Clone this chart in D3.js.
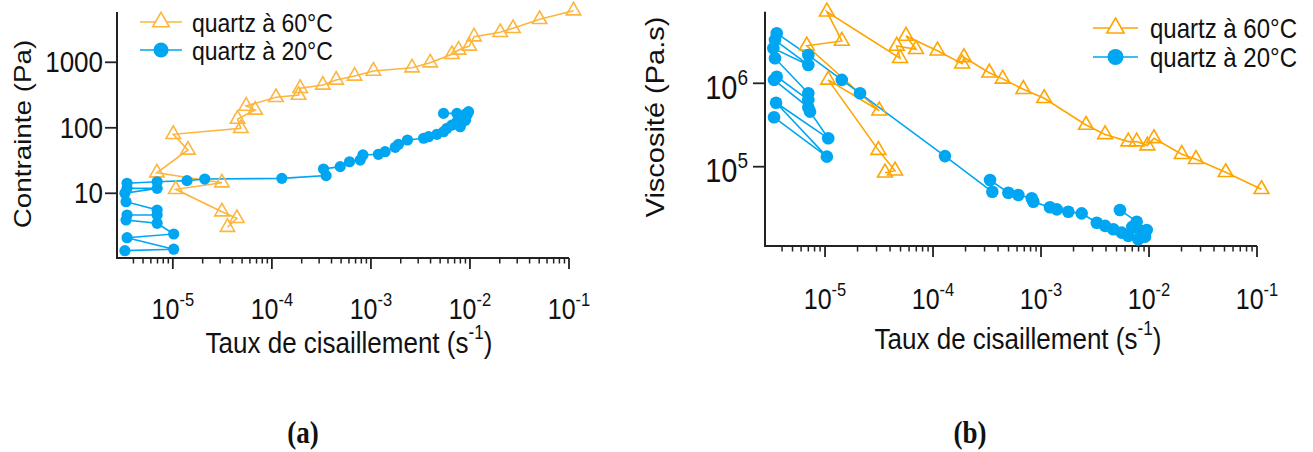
<!DOCTYPE html>
<html><head><meta charset="utf-8">
<script src="https://cdn.jsdelivr.net/npm/d3@7"></script>
<style>
html,body{margin:0;padding:0;background:#fff;}
svg{display:block;}
text{font-family:"Liberation Sans",Arial,sans-serif;fill:#111;}
</style></head>
<body>
<svg id="chart" width="1313" height="452"></svg>
<script>
// ---------- data ----------
const seriesNames = ["quartz à 60°C", "quartz à 20°C"];
const xTickExps = [-5, -4, -3, -2, -1];
const yTicksA = [10, 100, 1000];
const yTickExpsB = [5, 6];

// (a) shear rate (s^-1) and stress (Pa), quartz at 60°C
const rateA60 = [3.56e-5,4.43e-5,3.13e-5,1.07e-5,3.13e-5,6.9e-6,1.42e-5,1.01e-5,4.86e-5,4.5e-5,6.78e-5,5.5e-5,1.10e-4,1.86e-4,1.93e-4,3.27e-4,4.46e-4,6.84e-4,1.06e-3,2.6e-3,3.97e-3,6.57e-3,7.67e-3,9.84e-3,1.1e-2,2.02e-2,2.72e-2,5.05e-2,0.111];
const stressA60 = [3.03,4.15,5.24,11.5,14.5,20.6,45.8,79.6,98.2,136,187,215,292,316,401,450,537,618,736,827,986,1324,1541,1774,2460,2870,3300,4530,6140];

// (a) quartz at 20°C
const rateA20 = [3.28e-6,1.02e-5,3.45e-6,1.02e-5,6.94e-6,3.37e-6,3.45e-6,6.94e-6,6.94e-6,3.37e-6,3.28e-6,6.94e-6,3.45e-6,3.45e-6,6.94e-6,1.39e-5,2.1e-5,1.26e-4,3.53e-4,3.32e-4,4.9e-4,6.08e-4,7.8e-4,8.3e-4,1.19e-3,1.39e-3,1.76e-3,1.9e-3,2.34e-3,3.4e-3,3.82e-3,4.64e-3,5.41e-3,5.86e-3,6.58e-3,7.98e-3,7.39e-3,8.2e-3,8.61e-3,9.0e-3,8.8e-3,9.33e-3,9.68e-3,9.2e-3,7.39e-3,5.41e-3];
const stressA20 = [1.33,1.40,2.10,2.39,3.48,3.91,4.66,4.66,5.56,7.44,10.0,11.9,11.9,14.2,15.0,15.6,16.5,16.9,18.6,23.5,25.5,30.3,32.2,38.5,39.4,43.2,50.4,56,65.1,69.2,73.2,79.6,87.2,98.2,110,104,124,118,140,130,150,157,176,165,166,166];

// (b) shear rate (s^-1) and viscosity (Pa.s), quartz at 60°C
const rateB60 = [3.59e-5,4.45e-5,3.12e-5,1.07e-5,3.18e-5,6.77e-6,1.43e-5,1.04e-5,4.95e-5,4.61e-5,6.96e-5,5.62e-5,1.1e-4,1.86e-4,1.93e-4,3.32e-4,4.42e-4,6.86e-4,1.07e-3,2.61e-3,3.92e-3,6.43e-3,7.69e-3,9.66e-3,1.11e-2,2.01e-2,2.72e-2,5.13e-2,0.110];
const viscB60 = [8.47e4,8.96e4,1.58e5,1.10e6,4.69e5,2.82e6,3.22e6,7.22e6,2.0e6,2.8e6,2.56e6,3.69e6,2.46e6,1.72e6,2.05e6,1.34e6,1.13e6,8.48e5,6.61e5,3.16e5,2.44e5,2.0e5,2.0e5,1.79e5,2.19e5,1.41e5,1.23e5,8.57e4,5.36e4];

// (b) quartz at 20°C
const rateB20 = [3.37e-6,1.04e-5,3.52e-6,1.07e-5,7.26e-6,7.0e-6,3.37e-6,3.57e-6,7.0e-6,7.0e-6,3.44e-6,3.32e-6,7.0e-6,3.44e-6,3.57e-6,7.0e-6,1.43e-5,2.11e-5,1.29e-4,3.54e-4,3.37e-4,4.98e-4,6.16e-4,8.2e-4,8.49e-4,1.21e-3,1.40e-3,1.79e-3,2.38e-3,3.28e-3,3.92e-3,4.67e-3,5.58e-3,6.43e-3,7.0e-3,7.96e-3,8.3e-3,9.2e-3,9.52e-3,7.69e-3,5.38e-3];
const viscB20 = [3.91e5,1.32e5,5.85e5,2.19e5,4.57e5,5.15e5,1.1e6,1.2e6,6.31e5,7.59e5,2.0e6,2.63e6,1.66e6,3.30e6,3.98e6,2.18e6,1.1e6,7.59e5,1.34e5,5.0e4,6.92e4,4.88e4,4.58e4,4.18e4,3.8e4,3.26e4,3.08e4,2.88e4,2.76e4,2.13e4,1.95e4,1.78e4,1.62e4,1.48e4,1.9e4,1.35e4,1.7e4,1.45e4,1.74e4,2.19e4,3.03e4];

// ---------- drawing ----------
const svg = d3.select("#chart");
const BLUE = "#00A6F2";
const VS = 1.16; // vertical stretch of the original typesetting

function stretched(sel, x, y, extra) {
  return sel.attr("transform", `translate(${x},${y}) scale(1,${VS})${extra || ""}`);
}

function drawPanel(cfg) {
  const g = svg.append("g");
  const x = d3.scaleLog().domain(cfg.xDomain).range(cfg.xRange);
  const y = d3.scaleLog().domain(cfg.yDomain).range(cfg.yRange);
  const x0 = cfg.xRange[0], x1 = cfg.xRange[1];
  const yb = cfg.yRange[0], yt = cfg.yRange[1];

  g.append("path").attr("d", `M${x0},${yt}V${yb}H${x1}`)
    .attr("fill", "none").attr("stroke", "#222").attr("stroke-width", 2);

  const minor = [];
  for (let e = -6; e <= -2; e++) for (let m = 2; m <= 9; m++) {
    const v = m * Math.pow(10, e);
    if (x(v) > x0 + 8 && x(v) < x1) minor.push(v);
  }
  g.selectAll(".xmin").data(minor).join("line")
    .attr("x1", d => x(d)).attr("x2", d => x(d)).attr("y1", yb).attr("y2", yb + 5.5)
    .attr("stroke", "#222").attr("stroke-width", 1.5);
  g.selectAll(".xmaj").data(xTickExps).join("line")
    .attr("x1", d => x(Math.pow(10, d))).attr("x2", d => x(Math.pow(10, d)))
    .attr("y1", yb).attr("y2", yb + 11).attr("stroke", "#222").attr("stroke-width", 1.8);
  g.selectAll(".xlab").data(xTickExps).join("text")
    .each(function (d) {
      const t = stretched(d3.select(this), x(Math.pow(10, d)), yb + cfg.xLabDy)
        .attr("text-anchor", "middle").attr("font-size", cfg.tickFont);
      t.append("tspan").text("10");
      t.append("tspan").attr("dy", -cfg.tickFont * 0.46).attr("font-size", cfg.tickFont * 0.66).text(d);
    });

  g.selectAll(".ymaj").data(cfg.yTicks).join("line")
    .attr("x1", x0 - 12).attr("x2", x0).attr("y1", d => y(d)).attr("y2", d => y(d))
    .attr("stroke", "#222").attr("stroke-width", 1.8);
  cfg.yLabels(g, y, x0);

  const xt = stretched(g.append("text"), cfg.xTitlePos[0], cfg.xTitlePos[1])
    .attr("text-anchor", "middle").attr("font-size", cfg.titleFont);
  xt.append("tspan").text("Taux de cisaillement (s");
  xt.append("tspan").attr("dy", -cfg.titleFont * 0.45).attr("font-size", cfg.titleFont * 0.66).text("-1");
  xt.append("tspan").attr("dy", cfg.titleFont * 0.45).text(")");
  stretched(g.append("text"), cfg.yTitlePos[0], cfg.yTitlePos[1], " rotate(-90)")
    .attr("text-anchor", "middle").attr("font-size", cfg.yTitleFont).text(cfg.yTitle);

  const line = d3.line().x(d => x(d[0])).y(d => y(d[1]));
  const s60 = cfg.r60.map((r, i) => [r, cfg.v60[i]]);
  const s20 = cfg.r20.map((r, i) => [r, cfg.v20[i]]);
  const tri = d3.symbol().type(d3.symbolTriangle).size(cfg.triSize);

  g.append("path").datum(s60).attr("d", line).attr("fill", "none")
    .attr("stroke", cfg.orange).attr("stroke-width", 1.6);
  g.append("path").datum(s20).attr("d", line).attr("fill", "none")
    .attr("stroke", BLUE).attr("stroke-width", 1.6);
  g.selectAll(".tri").data(s60).join("path")
    .attr("transform", d => `translate(${x(d[0])},${y(d[1])})`).attr("d", tri)
    .attr("fill", "none").attr("stroke", cfg.orange).attr("stroke-width", 1.6);
  g.selectAll(".dot").data(s20).join("circle")
    .attr("cx", d => x(d[0])).attr("cy", d => y(d[1])).attr("r", cfg.dotR).attr("fill", BLUE);

  const L = cfg.legend;
  [0, 1].forEach(i => {
    const yy = L.y + i * L.dy;
    const col = i === 0 ? cfg.orange : BLUE;
    g.append("line").attr("x1", L.x).attr("x2", L.x + L.len).attr("y1", yy).attr("y2", yy)
      .attr("stroke", col).attr("stroke-width", 1.6);
    if (i === 0) {
      g.append("path").attr("transform", `translate(${L.x + L.len / 2},${yy})`)
        .attr("d", d3.symbol().type(d3.symbolTriangle).size(L.triSize))
        .attr("fill", "#fff").attr("stroke", col).attr("stroke-width", 1.6);
    } else {
      g.append("circle").attr("cx", L.x + L.len / 2).attr("cy", yy).attr("r", L.r).attr("fill", col);
    }
    stretched(g.append("text"), L.x + L.len + L.gap, yy + L.font * 0.42)
      .attr("font-size", L.font).text(seriesNames[i]);
  });
}

drawPanel({
  xDomain: [2.73e-6, 0.1], xRange: [117, 569],
  yDomain: [1.028, 5861], yRange: [258, 12],
  yTicks: yTicksA,
  yLabels: (g, y, x0) => {
    g.selectAll(".ylab").data(yTicksA).join("text")
      .each(function (d) {
        stretched(d3.select(this), x0 - 14, y(d) + 10).attr("text-anchor", "end")
          .attr("font-size", 26).text(d);
      });
  },
  tickFont: 25, titleFont: 26, yTitleFont: 24, xLabDy: 61,
  xTitlePos: [349, 353], yTitlePos: [31, 134], yTitle: "Contrainte (Pa)",
  r60: rateA60, v60: stressA60, r20: rateA20, v20: stressA20,
  orange: "#FDB53E", triSize: 90, dotR: 5.6,
  legend: { x: 140, y: 22, dy: 28, len: 42, gap: 10, font: 23, triSize: 120, r: 7.5 }
});

drawPanel({
  xDomain: [2.78e-6, 0.1], xRange: [765, 1257],
  yDomain: [1.12e4, 7.22e6], yRange: [246, 11.7],
  yTicks: yTickExpsB.map(e => Math.pow(10, e)),
  yLabels: (g, y, x0) => {
    g.selectAll(".ylab").data(yTickExpsB).join("text")
      .each(function (d) {
        const t = stretched(d3.select(this), x0 - 17, y(Math.pow(10, d)) + 15.5)
          .attr("text-anchor", "end").attr("font-size", 29);
        t.append("tspan").text("10");
        t.append("tspan").attr("dy", -12).attr("font-size", 19).text(d);
      });
  },
  tickFont: 25, titleFont: 26, yTitleFont: 25, xLabDy: 63,
  xTitlePos: [1018, 349], yTitlePos: [664, 117], yTitle: "Viscosité (Pa.s)",
  r60: rateB60, v60: viscB60, r20: rateB20, v20: viscB20,
  orange: "#FFA500", triSize: 95, dotR: 6.3,
  legend: { x: 1093, y: 28, dy: 29, len: 45, gap: 12, font: 24, triSize: 130, r: 8 }
});

// captions
[["(a)", 303], ["(b)", 970]].forEach(([t, cx]) => {
  stretched(svg.append("text"), cx, 443).attr("text-anchor", "middle")
    .style("font-family", "'Liberation Serif','Times New Roman',serif")
    .attr("font-weight", "bold").attr("font-size", 27).text(t);
});
</script>
</body></html>
